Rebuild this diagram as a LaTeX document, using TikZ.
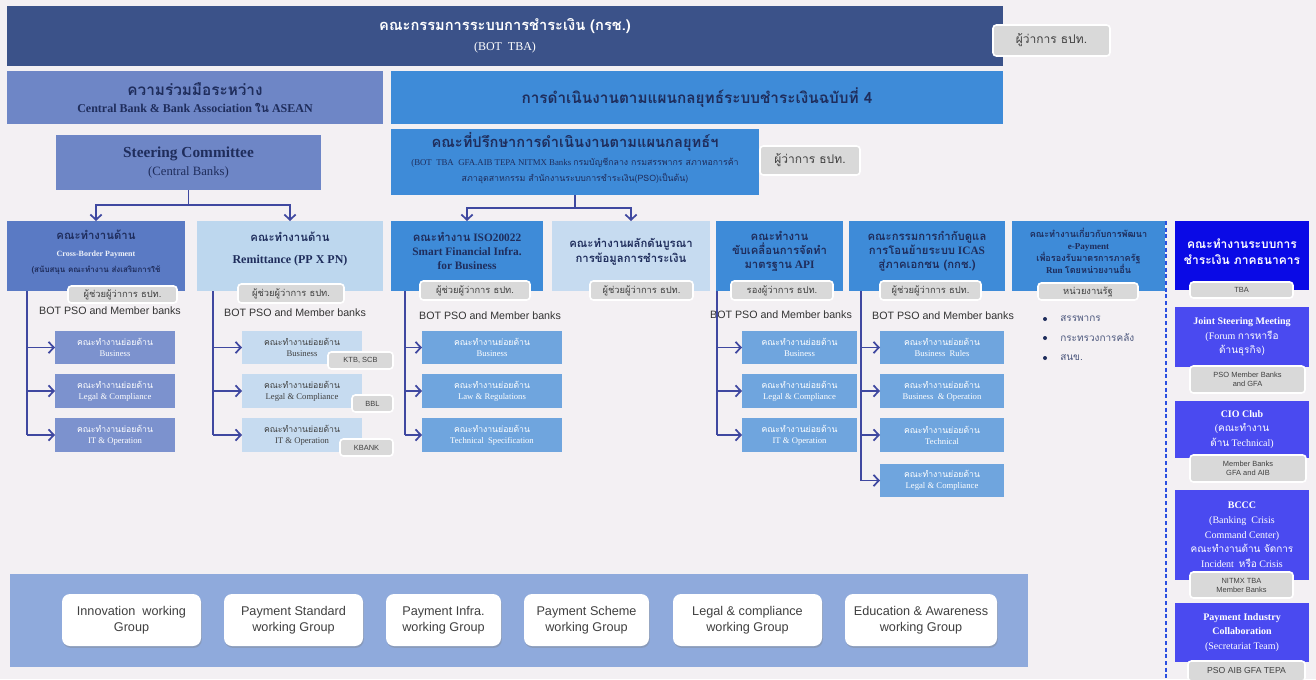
\documentclass[tikz,border=0pt]{standalone}
\usepackage{fontspec}
\setmainfont{Liberation Serif}
\newfontfamily\arialf{Liberation Sans}
\newfontfamily\thaif[Script=Thai]{Loma}
\newcommand{\thx}[1]{{\thaif #1}}
\usetikzlibrary{arrows.meta,shadows}
\definecolor{bgc}{HTML}{F3F0F3}
\definecolor{navy}{HTML}{3B5289}
\definecolor{midb}{HTML}{6E86C6}
\definecolor{skyb}{HTML}{3E8BD8}
\definecolor{cbb}{HTML}{5A7AC4}
\definecolor{cbsub}{HTML}{7C92CE}
\definecolor{lightb}{HTML}{BDD7EE}
\definecolor{lightsub}{HTML}{C6DBF0}
\definecolor{skysub}{HTML}{6FA5DE}
\definecolor{royal}{HTML}{0A0AE6}
\definecolor{violet}{HTML}{4A4AF0}
\definecolor{bandc}{HTML}{8FAADC}
\definecolor{tagc}{HTML}{D9D9D9}
\definecolor{ink}{HTML}{1F2D5C}
\definecolor{connc}{HTML}{3F48A0}
\definecolor{dashc}{HTML}{2B50E0}
\definecolor{graytxt}{HTML}{404040}
\tikzset{
  sz/.style 2 args={minimum width=#1*0.75pt, minimum height=#2*0.75pt},
  blk/.style={rectangle, inner sep=0pt, outer sep=0pt, align=center},
  txt/.style={inner sep=0pt, align=center},
  tagbox/.style={blk, fill=tagc, draw=white, line width=1.2pt, rounded corners=2.5pt, text=graytxt, font=\thaif\fontsize{7}{8}\selectfont},
  ltag/.style={tagbox, font=\arialf\fontsize{5.6}{6.8}\selectfont},
  subbox/.style={blk, font=\fontsize{6.5}{8.2}\selectfont},
  lbl/.style={inner sep=0pt, text=graytxt!80!black, font=\arialf\fontsize{8}{9}\selectfont},
  conn/.style={connc, line width=1.3pt},
  arr/.style={connc, line width=1.3pt, -{Straight Barb[length=4pt,width=8.5pt]}},
  grp/.style={blk, fill=white, rounded corners=6pt, text=graytxt, font=\arialf\fontsize{9.5}{12}\selectfont, drop shadow={shadow xshift=0.6pt, shadow yshift=-1.4pt, opacity=0.35}},
  frbox/.style={blk, text=white, font=\fontsize{7.5}{11}\selectfont},
}
\begin{document}
\begin{tikzpicture}[x=0.75pt,y=-0.75pt]
\fill[bgc] (0,0) rectangle (1316,679);
\useasboundingbox (0,0) rectangle (1316,679);

% ---- top
\node[blk,sz={996}{60},fill=navy,text=white] (kc) at (505,36)
  {\thx{\bfseries\fontsize{11}{14}\selectfont คณะกรรมการระบบการชำระเงิน (กรช.)}\\[3pt]{\fontsize{9}{11}\selectfont (BOT\enspace TBA)}};
\node[tagbox,sz={117}{31},font=\thaif\fontsize{9}{10}\selectfont] (gov1) at (1051.5,40.5) {ผู้ว่าการ ธปท.};

% ---- row 2
\node[blk,sz={376}{53},fill=midb,text=ink] (asean) at (195,97.5)
  {\thx{\bfseries\fontsize{11.5}{13}\selectfont ความร่วมมือระหว่าง}\\[1pt]{\bfseries\fontsize{9}{11}\selectfont Central Bank \& Bank Association \thx{ใน} ASEAN}};
\node[blk,sz={612}{53},fill=skyb,text=ink] (plan) at (697,97.5)
  {\thx{\bfseries\fontsize{11.5}{13}\selectfont การดำเนินงานตามแผนกลยุทธ์ระบบชำระเงินฉบับที่ 4}};

% ---- steering / advisory
\node[blk,sz={265}{55},fill=midb,text=ink] (steer) at (188.5,162.5)
  {{\bfseries\fontsize{11.5}{14}\selectfont Steering Committee}\\[1pt]{\fontsize{9.5}{12}\selectfont (Central Banks)}};
\node[blk,sz={368}{66},fill=skyb] (adv) at (575,162) {};
\node[txt,text=ink] (advT) at (575,158)
  {\thx{\bfseries\fontsize{11}{13}\selectfont คณะที่ปรึกษาการดำเนินงานตามแผนกลยุทธ์ฯ}\\[1pt]{\fontsize{6.6}{9.5}\selectfont (BOT\ \ TBA\ \ GFA.AIB TEPA NITMX Banks \thx{กรมบัญชีกลาง กรมสรรพากร สภาหอการค้า}}\\{\fontsize{6.6}{9.5}\selectfont\thx{สภาอุตสาหกรรม สำนักงานระบบการชำระเงิน(PSO)เป็นต้น)}}};
\node[tagbox,sz={100}{29},font=\thaif\fontsize{9}{10}\selectfont] (gov2) at (810,160.5) {ผู้ว่าการ ธปท.};

% ---- row 3 headers
\node[blk,sz={178}{70},fill=cbb] (cb) at (96,256) {};
\node[txt,text=ink] (cbT) at (96,252)
  {\thx{\bfseries\fontsize{8.5}{11}\selectfont คณะทำงานด้าน}\\[1pt]{\color{white!90!cbb}\bfseries\fontsize{6}{8}\selectfont Cross-Border Payment}\\\thx{\bfseries\fontsize{6}{8}\selectfont (สนับสนุน คณะทำงาน ส่งเสริมการใช้}};
\node[blk,sz={186}{70},fill=lightb] (rem) at (290,256) {};
\node[txt,text=ink] (remT) at (290,249)
  {\thx{\bfseries\fontsize{8.5}{11}\selectfont คณะทำงานด้าน}\\[4pt]{\bfseries\fontsize{9}{11}\selectfont Remittance (PP X PN)}};
\node[blk,sz={152}{70},fill=skyb] (iso) at (467,256) {};
\node[txt,text=ink,font=\bfseries\fontsize{8.5}{10.5}\selectfont] (isoT) at (467,251)
  {\thx{คณะทำงาน} ISO20022\\Smart Financial Infra.\\for Business};
\node[blk,sz={158}{70},fill=lightsub] (intg) at (631,256) {};
\node[txt,text=ink,font=\thaif\bfseries\fontsize{8.5}{11}\selectfont] (intgT) at (631,252)
  {คณะทำงานผลักดันบูรณา\\การข้อมูลการชำระเงิน};
\node[blk,sz={127}{70},fill=skyb] (api) at (779.5,256) {};
\node[txt,text=ink,font=\bfseries\fontsize{8.5}{10.5}\selectfont] (apiT) at (779.5,251)
  {\thx{คณะทำงาน}\\\thx{ขับเคลื่อนการจัดทำ}\\\thx{มาตรฐาน} API};
\node[blk,sz={156}{70},fill=skyb] (icas) at (927,256) {};
\node[txt,text=ink,font=\bfseries\fontsize{8.5}{10.5}\selectfont] (icasT) at (927,251)
  {\thx{คณะกรรมการกำกับดูแล}\\\thx{การโอนย้ายระบบ} ICAS\\\thx{สู่ภาคเอกชน (กกช.)}};
\node[blk,sz={153}{70},fill=skyb] (epay) at (1088.5,256) {};
\node[txt,text=ink,font=\bfseries\fontsize{6.8}{9}\selectfont] (epayT) at (1088.5,251)
  {\thx{คณะทำงานเกี่ยวกับการพัฒนา}\\e-Payment\\\thx{เพื่อรองรับมาตรการภาครัฐ}\\Run \thx{โดยหน่วยงานอื่น}};

% ---- connectors from steering / advisory
\coordinate (sj) at (188.5,205);
\draw[conn] (steer.south) -- (sj);
\draw[arr] (sj) -| (cb.north);
\draw[arr] (sj) -| (rem.north);
\coordinate (aj) at (575,208);
\draw[conn] (adv.south) -- (aj);
\draw[arr] (aj) -| (iso.north);
\draw[arr] (aj) -| (intg.north);

% ---- tags under headers
\node[tagbox,sz={109}{17}] (cbG) at (122.5,294.5) {ผู้ช่วยผู้ว่าการ ธปท.};
\node[tagbox,sz={106}{19}] (remG) at (291,293.5) {ผู้ช่วยผู้ว่าการ ธปท.};
\node[tagbox,sz={110}{19}] (isoG) at (475,290.5) {ผู้ช่วยผู้ว่าการ ธปท.};
\node[tagbox,sz={103}{19}] (intgG) at (641.5,290.5) {ผู้ช่วยผู้ว่าการ ธปท.};
\node[tagbox,sz={102}{19}] (apiG) at (782,290.5) {รองผู้ว่าการ ธปท.};
\node[tagbox,sz={101}{19}] (icasG) at (930.5,290.5) {ผู้ช่วยผู้ว่าการ ธปท.};
\node[tagbox,sz={100}{17}] (epayG) at (1088,291.5) {หน่วยงานรัฐ};

% ---- BOT PSO labels
\node[lbl] (cbL) at (110,311) {BOT PSO and Member banks};
\node[lbl] (remL) at (295,313) {BOT PSO and Member banks};
\node[lbl] (isoL) at (490,316) {BOT PSO and Member banks};
\node[lbl] (apiL) at (781,315) {BOT PSO and Member banks};
\node[lbl] (icasL) at (943,316) {BOT PSO and Member banks};

% ---- sub boxes: cross border
\node[subbox,sz={120}{33},fill=cbsub,text=white] (cb1) at (115,347.5) {\thx{คณะทำงานย่อยด้าน}\\Business};
\node[subbox,sz={120}{34},fill=cbsub,text=white] (cb2) at (115,391) {\thx{คณะทำงานย่อยด้าน}\\Legal \& Compliance};
\node[subbox,sz={120}{34},fill=cbsub,text=white] (cb3) at (115,435) {\thx{คณะทำงานย่อยด้าน}\\IT \& Operation};
\coordinate (cbv) at (27,291);
\draw[conn] (cbv) -- (cbv |- cb3.west);
\foreach \n in {cb1,cb2,cb3} \draw[arr] (cbv |- \n.west) -- (\n.west);

% ---- remittance
\node[subbox,sz={120}{33},fill=lightsub,text=graytxt] (rm1) at (302,347.5) {\thx{คณะทำงานย่อยด้าน}\\Business};
\node[subbox,sz={120}{34},fill=lightsub,text=graytxt] (rm2) at (302,391) {\thx{คณะทำงานย่อยด้าน}\\Legal \& Compliance};
\node[subbox,sz={120}{34},fill=lightsub,text=graytxt] (rm3) at (302,435) {\thx{คณะทำงานย่อยด้าน}\\IT \& Operation};
\coordinate (rmv) at (213,291);
\draw[conn] (rmv) -- (rmv |- rm3.west);
\foreach \n in {rm1,rm2,rm3} \draw[arr] (rmv |- \n.west) -- (\n.west);
\node[ltag,sz={65}{17}] (ktb) at (360.5,360.5) {KTB, SCB};
\node[ltag,sz={41}{17}] (bbl) at (372.5,403.5) {BBL};
\node[ltag,sz={53}{17}] (kbank) at (366.5,447.5) {KBANK};

% ---- ISO
\node[subbox,sz={140}{33},fill=skysub,text=white] (is1) at (492,347.5) {\thx{คณะทำงานย่อยด้าน}\\Business};
\node[subbox,sz={140}{34},fill=skysub,text=white] (is2) at (492,391) {\thx{คณะทำงานย่อยด้าน}\\Law \& Regulations};
\node[subbox,sz={140}{34},fill=skysub,text=white] (is3) at (492,435) {\thx{คณะทำงานย่อยด้าน}\\Technical\ \ Specification};
\coordinate (isv) at (405,291);
\draw[conn] (isv) -- (isv |- is3.west);
\foreach \n in {is1,is2,is3} \draw[arr] (isv |- \n.west) -- (\n.west);

% ---- API
\node[subbox,sz={115}{33},fill=skysub,text=white] (ap1) at (799.5,347.5) {\thx{คณะทำงานย่อยด้าน}\\Business};
\node[subbox,sz={115}{34},fill=skysub,text=white] (ap2) at (799.5,391) {\thx{คณะทำงานย่อยด้าน}\\Legal \& Compliance};
\node[subbox,sz={115}{34},fill=skysub,text=white] (ap3) at (799.5,435) {\thx{คณะทำงานย่อยด้าน}\\IT \& Operation};
\coordinate (apv) at (717,291);
\draw[conn] (apv) -- (apv |- ap3.west);
\foreach \n in {ap1,ap2,ap3} \draw[arr] (apv |- \n.west) -- (\n.west);

% ---- ICAS
\node[subbox,sz={124}{33},fill=skysub,text=white] (ic1) at (942,347.5) {\thx{คณะทำงานย่อยด้าน}\\Business\ \ Rules};
\node[subbox,sz={124}{34},fill=skysub,text=white] (ic2) at (942,391) {\thx{คณะทำงานย่อยด้าน}\\Business\ \ \& Operation};
\node[subbox,sz={124}{34},fill=skysub,text=white] (ic3) at (942,435) {\thx{คณะทำงานย่อยด้าน}\\Technical};
\node[subbox,sz={124}{33},fill=skysub,text=white] (ic4) at (942,480.5) {\thx{คณะทำงานย่อยด้าน}\\Legal \& Compliance};
\coordinate (icv) at (861,291);
\draw[conn] (icv) -- (icv |- ic4.west);
\foreach \n in {ic1,ic2,ic3,ic4} \draw[arr] (icv |- \n.west) -- (\n.west);

% ---- e-payment bullets
\foreach \i/\yy/\lab in {1/319/สรรพากร,2/338/กระทรวงการคลัง,3/358/สนข.}{
  \node[circle,fill=ink,inner sep=0pt,minimum size=3pt] (bu\i) at (1045,\yy) {};
  \node[anchor=west,inner sep=0pt,text=ink!80,font=\thaif\fontsize{7.5}{9}\selectfont] (bt\i) at (1060,\yy) {\lab};
}

% ---- dashed separator
\coordinate (dtop) at (1166,221);
\coordinate (dbot) at (1166,679);
\draw[dashc, line width=1.5pt, dash pattern=on 3pt off 2pt] (dtop) -- (dbot);

% ---- far right column
\node[frbox,sz={134}{69},fill=royal] (fr1) at (1242,255.5) {};
\node[txt,text=white,font=\thaif\bfseries\fontsize{9}{12}\selectfont] (fr1T) at (1242,252) {คณะทำงานระบบการ\\ชำระเงิน ภาคธนาคาร};
\node[ltag,sz={103}{16}] (fr1G) at (1241.5,290) {TBA};

\node[frbox,sz={134}{60},fill=violet] (fr2) at (1242,337)
  {{\bfseries Joint Steering Meeting}\\(Forum \thx{การหารือ}\\\thx{ด้านธุรกิจ)}};
\node[ltag,sz={115}{27}] (fr2G) at (1247.5,379.5) {PSO Member Banks\\and GFA};

\node[frbox,sz={134}{57},fill=violet] (fr3) at (1242,429.5)
  {{\bfseries CIO Club}\\(\thx{คณะทำงาน}\\\thx{ด้าน} Technical)};
\node[ltag,sz={116}{27}] (fr3G) at (1248,468.5) {Member Banks\\GFA and AIB};

\node[frbox,sz={134}{90},fill=violet] (fr4) at (1242,535)
  {{\bfseries BCCC}\\(Banking\ \ Crisis\\Command Center)\\\thx{คณะทำงานด้าน จัดการ}\\Incident\ \ \thx{หรือ} Crisis};
\node[ltag,sz={103}{26}] (fr4G) at (1241.5,585) {NITMX TBA\\Member Banks};

\node[frbox,sz={134}{59},fill=violet] (fr5) at (1242,632.5)
  {{\bfseries Payment Industry}\\{\bfseries Collaboration}\\(Secretariat Team)};
\node[ltag,sz={117}{20},font=\arialf\fontsize{6.5}{7.5}\selectfont] (fr5G) at (1246.5,671) {PSO AIB GFA TEPA};

% ---- bottom band
\node[blk,sz={1018}{93},fill=bandc] (band) at (519,620.5) {};
\node[grp,sz={139}{52}] (g1) at (131.5,620) {Innovation\ \ working\\Group};
\node[grp,sz={139}{52}] (g2) at (293.5,620) {Payment Standard\\working Group};
\node[grp,sz={115}{52}] (g3) at (443.5,620) {Payment Infra.\\working Group};
\node[grp,sz={125}{52}] (g4) at (586.5,620) {Payment Scheme\\working Group};
\node[grp,sz={149}{52}] (g5) at (747.5,620) {Legal \& compliance\\working Group};
\node[grp,sz={152}{52}] (g6) at (921,620) {Education \& Awareness\\working Group};
\end{tikzpicture}
\end{document}
